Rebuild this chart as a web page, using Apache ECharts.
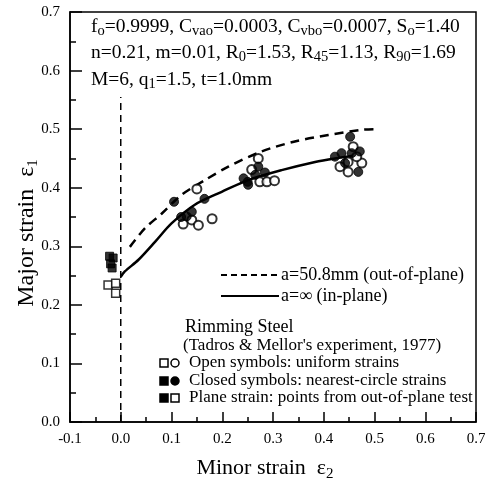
<!DOCTYPE html>
<html>
<head>
<meta charset="utf-8">
<script src="https://cdn.jsdelivr.net/npm/echarts@6/dist/echarts.min.js"></script>
<style>
  html, body { margin: 0; padding: 0; background: #fff; }
  #chart { width: 486px; height: 479px; }
</style>
</head>
<body>
<div id="chart"></div>
<script>
// out-of-plane prediction (a = 50.8mm), dashed
const outPlaneX = [0.018, 0.048, 0.081, 0.12, 0.166, 0.212, 0.278, 0.343, 0.409, 0.475, 0.50]
const outPlaneY = [0.299, 0.331, 0.356, 0.388, 0.413, 0.436, 0.462, 0.479, 0.490, 0.499, 0.500]

// in-plane prediction (a = inf), solid
const inPlaneX = [0.0, 0.008, 0.035, 0.068, 0.10, 0.146, 0.199, 0.251, 0.317, 0.383, 0.422, 0.47]
const inPlaneY = [0.248, 0.257, 0.277, 0.308, 0.339, 0.371, 0.393, 0.413, 0.430, 0.444, 0.450, 0.456]

// vertical dashed reference at minor strain 0
const zeroLineX = [0, 0]
const zeroLineY = [0, 0.555]

// experiment points
const openCircleX = [0.123, 0.140, 0.153, 0.180, 0.150, 0.271, 0.258, 0.274, 0.288, 0.303, 0.458, 0.448, 0.475, 0.448, 0.432, 0.465]
const openCircleY = [0.338, 0.345, 0.336, 0.347, 0.398, 0.450, 0.431, 0.410, 0.410, 0.412, 0.470, 0.444, 0.442, 0.427, 0.436, 0.453]

const filledCircleX = [0.105, 0.165, 0.119, 0.130, 0.140, 0.242, 0.251, 0.265, 0.284, 0.271, 0.250, 0.452, 0.435, 0.455, 0.471, 0.422, 0.468, 0.442]
const filledCircleY = [0.376, 0.381, 0.350, 0.351, 0.359, 0.416, 0.405, 0.422, 0.426, 0.436, 0.410, 0.487, 0.459, 0.459, 0.462, 0.453, 0.427, 0.442]

const filledSquareX = [-0.022, -0.015, -0.020, -0.017]
const filledSquareY = [0.283, 0.280, 0.270, 0.263]

const openSquareX = [-0.025, -0.010, -0.010]
const openSquareY = [0.234, 0.237, 0.220]

const xTicks = [-0.1, 0.0, 0.1, 0.2, 0.3, 0.4, 0.5, 0.6, 0.7]
const yTicks = [0.0, 0.1, 0.2, 0.3, 0.4, 0.5, 0.6, 0.7]

const SERIF = 'Liberation Serif'

function zipXY(xs, ys) {
  return xs.map((x, i) => [x, ys[i]])
}

const richText = {
  n: { fontFamily: SERIF, fontSize: 19.5, verticalAlign: 'middle', lineHeight: 24 },
  s: { fontFamily: SERIF, fontSize: 14.5, verticalAlign: 'bottom', lineHeight: 24 }
}

function textEl(x, y, text, size, rich) {
  return {
    type: 'text',
    x: x,
    y: y,
    style: {
      text: text,
      fill: '#000',
      font: size + 'px "' + SERIF + '"',
      align: 'left',
      verticalAlign: 'middle',
      rich: rich
    }
  }
}

function lineEl(x1, y1, x2, y2, dash) {
  return {
    type: 'line',
    shape: { x1: x1, y1: y1, x2: x2, y2: y2 },
    style: { stroke: '#000', lineWidth: 2, lineDash: dash }
  }
}

function markerEl(shape, cx, cy, filled) {
  let style = { stroke: '#000', lineWidth: 1.5, fill: filled ? '#000' : '#fff' }
  if (shape === 'circle') {
    return { type: 'circle', shape: { cx: cx, cy: cy, r: 4 }, style: style }
  }
  return { type: 'rect', shape: { x: cx - 4, y: cy - 4, width: 8, height: 8 }, style: style }
}

const chart = echarts.init(document.getElementById('chart'), null, { renderer: 'canvas' })

const option = {
  backgroundColor: '#fff',
  animation: false,
  grid: {
    left: 70,
    top: 12,
    right: 10,
    bottom: 57,
    outerBoundsMode: 'none',
    containLabel: false,
    show: true,
    borderColor: '#000',
    borderWidth: 1.5,
    backgroundColor: 'transparent'
  },
  xAxis: {
    type: 'value',
    min: xTicks[0],
    max: xTicks[xTicks.length - 1],
    interval: 0.1,
    name: '{n|Minor strain  ε}{s|2}',
    nameLocation: 'middle',
    nameGap: 32,
    nameMoveOverlap: false,
    nameTextStyle: {
      color: '#000',
      padding: [0, 16, 0, 0],
      rich: {
        n: { fontFamily: SERIF, fontSize: 22, color: '#000', verticalAlign: 'middle', lineHeight: 28 },
        s: { fontFamily: SERIF, fontSize: 15, color: '#000', verticalAlign: 'bottom', lineHeight: 28 }
      }
    },
    axisLine: { show: true, onZero: false, lineStyle: { color: '#000', width: 1.5 } },
    axisTick: { show: true, inside: true, length: 10, lineStyle: { color: '#000', width: 1.5 } },
    minorTick: { show: true, splitNumber: 2, length: 5, lineStyle: { color: '#000', width: 1.5 } },
    axisLabel: {
      color: '#000',
      fontFamily: SERIF,
      fontSize: 15,
      margin: 10,
      formatter: v => v.toFixed(1)
    },
    splitLine: { show: false }
  },
  yAxis: {
    type: 'value',
    min: yTicks[0],
    max: yTicks[yTicks.length - 1],
    interval: 0.1,
    name: '{n|Major strain  ε}{s|1}',
    nameLocation: 'middle',
    nameGap: 29,
    nameMoveOverlap: false,
    nameRotate: 90,
    nameTextStyle: {
      color: '#000',
      padding: [0, 32, 0, 0],
      rich: {
        n: { fontFamily: SERIF, fontSize: 24, color: '#000', verticalAlign: 'middle', lineHeight: 28 },
        s: { fontFamily: SERIF, fontSize: 15, color: '#000', verticalAlign: 'bottom', lineHeight: 28 }
      }
    },
    axisLine: { show: true, onZero: false, lineStyle: { color: '#000', width: 1.5 } },
    axisTick: { show: true, inside: true, length: 12, lineStyle: { color: '#000', width: 1.5 } },
    minorTick: { show: true, splitNumber: 2, length: 6, lineStyle: { color: '#000', width: 1.5 } },
    axisLabel: {
      color: '#000',
      fontFamily: SERIF,
      fontSize: 15,
      margin: 10,
      formatter: v => v.toFixed(1)
    },
    splitLine: { show: false }
  },
  series: [
    {
      name: 'zero',
      type: 'line',
      data: zipXY(zeroLineX, zeroLineY),
      symbol: 'none',
      lineStyle: { color: '#000', width: 1.5, type: [7, 5] },
      z: 1
    },
    {
      name: 'out-of-plane',
      type: 'line',
      data: zipXY(outPlaneX, outPlaneY),
      smooth: 0.3,
      symbol: 'none',
      lineStyle: { color: '#000', width: 2.5, type: [9, 6] },
      z: 2
    },
    {
      name: 'in-plane',
      type: 'line',
      data: zipXY(inPlaneX, inPlaneY),
      smooth: 0.3,
      symbol: 'none',
      lineStyle: { color: '#000', width: 2.5 },
      z: 2
    },
    {
      name: 'open circles',
      type: 'scatter',
      data: zipXY(openCircleX, openCircleY),
      symbol: 'circle',
      symbolSize: 9,
      itemStyle: { color: '#fff', borderColor: '#000', borderWidth: 2 },
      z: 3
    },
    {
      name: 'filled circles',
      type: 'scatter',
      data: zipXY(filledCircleX, filledCircleY),
      symbol: 'circle',
      symbolSize: 9,
      itemStyle: { color: '#000', borderColor: '#000', borderWidth: 1 },
      z: 4
    },
    {
      name: 'filled squares',
      type: 'scatter',
      data: zipXY(filledSquareX, filledSquareY),
      symbol: 'rect',
      symbolSize: 8,
      itemStyle: { color: '#000', borderColor: '#000', borderWidth: 1 },
      z: 4
    },
    {
      name: 'open squares',
      type: 'scatter',
      data: zipXY(openSquareX, openSquareY),
      symbol: 'rect',
      symbolSize: 8,
      itemStyle: { color: '#fff', borderColor: '#000', borderWidth: 1.5 },
      z: 3
    }
  ],
  graphic: [
    textEl(91, 27, '{n|f}{s|o}{n|=0.9999, C}{s|vao}{n|=0.0003, C}{s|vbo}{n|=0.0007, S}{s|o}{n|=1.40}', 19.5, richText),
    textEl(91, 53, '{n|n=0.21, m=0.01, R}{s|0}{n|=1.53, R}{s|45}{n|=1.13, R}{s|90}{n|=1.69}', 19.5, richText),
    textEl(91, 80, '{n|M=6, q}{s|1}{n|=1.5, t=1.0mm}', 19.5, richText),
    lineEl(221, 275, 279, 275, [6, 4]),
    textEl(281, 275, 'a=50.8mm (out-of-plane)', 18),
    lineEl(221, 296, 279, 296, null),
    textEl(281, 296, 'a=∞ (in-plane)', 18),
    textEl(185, 327, 'Rimming Steel', 18),
    textEl(183, 346, '(Tadros & Mellor\'s experiment, 1977)', 17),
    markerEl('rect', 164, 363, false),
    markerEl('circle', 175, 363, false),
    textEl(189, 363, 'Open symbols: uniform strains', 17),
    markerEl('rect', 164, 381, true),
    markerEl('circle', 175, 381, true),
    textEl(189, 381, 'Closed symbols: nearest-circle strains', 17),
    markerEl('rect', 164, 398, true),
    markerEl('rect', 175, 398, false),
    textEl(189, 398, 'Plane strain: points from out-of-plane test', 17)
  ]
}

chart.setOption(option)
</script>
</body>
</html>
